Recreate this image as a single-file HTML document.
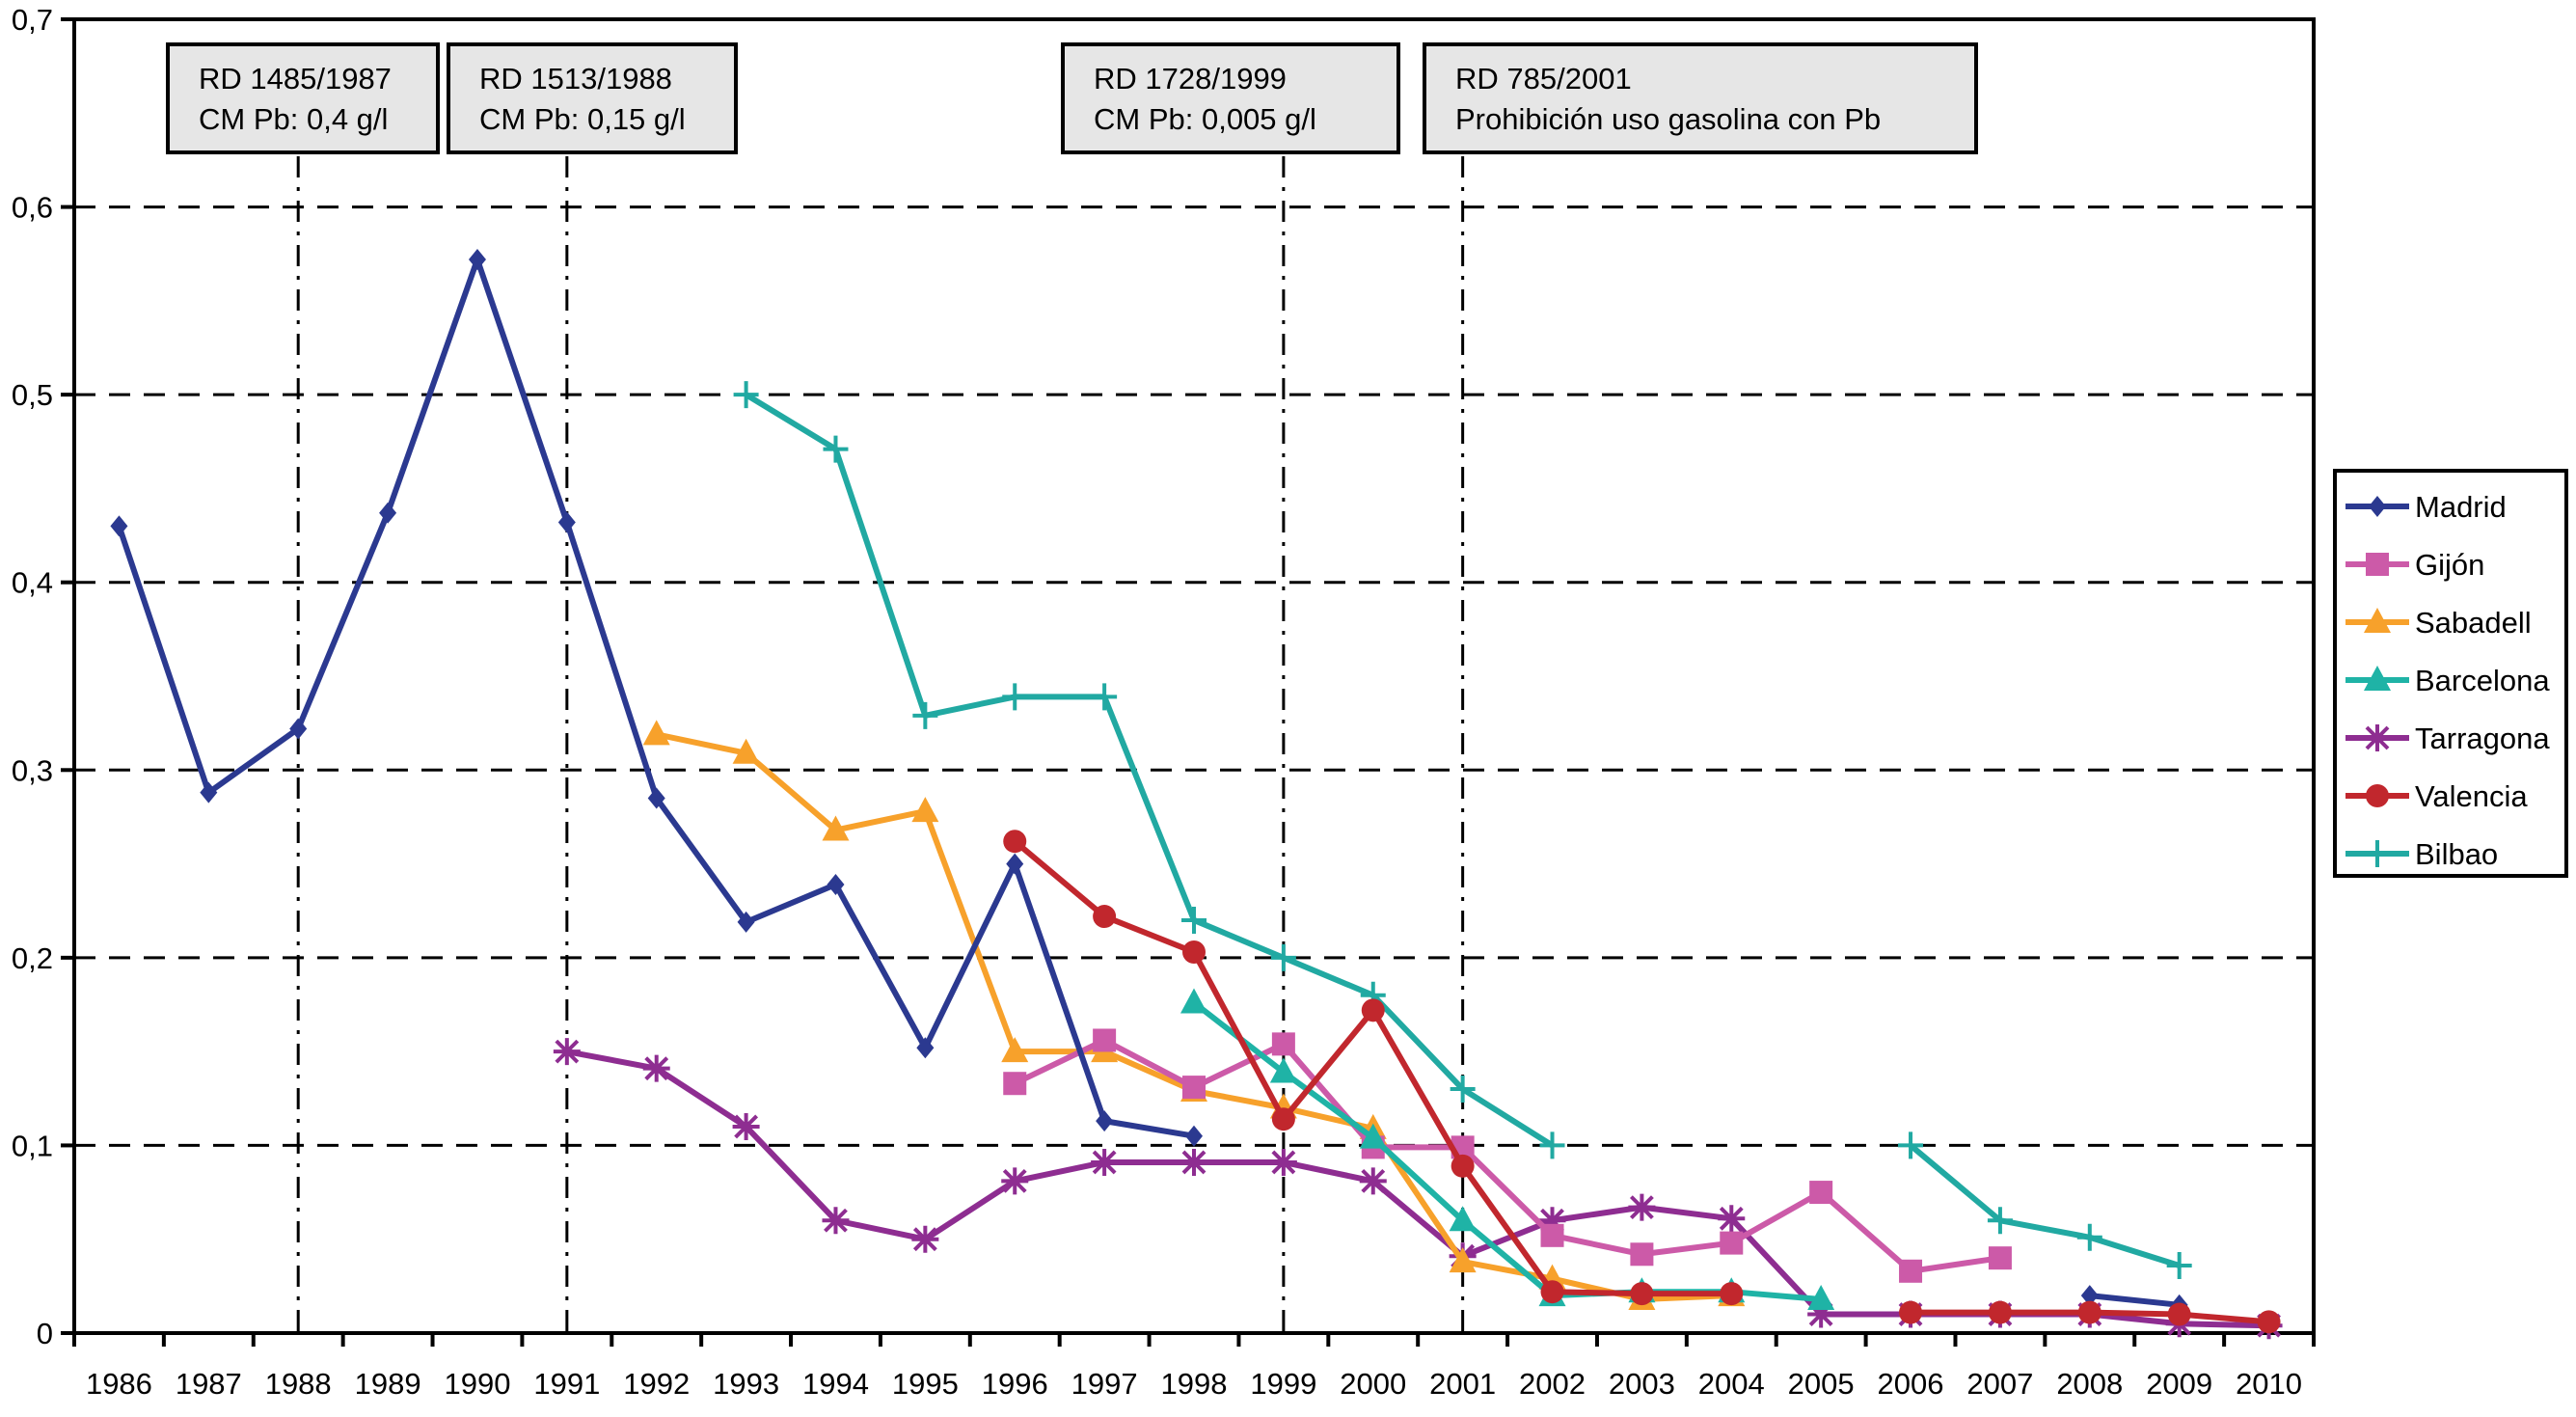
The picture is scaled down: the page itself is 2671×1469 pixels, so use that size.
<!DOCTYPE html>
<html><head><meta charset="utf-8">
<style>
html,body{margin:0;padding:0;background:#fff;}
svg{display:block;font-family:"Liberation Sans",Arial,sans-serif;}
</style></head>
<body>
<svg id="chart" width="2671" height="1469" viewBox="0 0 2671 1469" xmlns="http://www.w3.org/2000/svg"></svg>
<script>
const years = [1986,1987,1988,1989,1990,1991,1992,1993,1994,1995,1996,1997,1998,1999,2000,2001,2002,2003,2004,2005,2006,2007,2008,2009,2010];
const yTicks = [0,0.1,0.2,0.3,0.4,0.5,0.6,0.7];
const yTickLabels = ["0","0,1","0,2","0,3","0,4","0,5","0,6","0,7"];
const seriesNames = ["Madrid","Gijón","Sabadell","Barcelona","Tarragona","Valencia","Bilbao"];
const madrid    = [0.43,0.288,0.322,0.437,0.572,0.432,0.285,0.219,0.239,0.152,0.25,0.113,0.105,null,null,null,null,null,null,null,null,null,0.02,0.015,null];
const gijon     = [null,null,null,null,null,null,null,null,null,null,0.133,0.156,0.131,0.154,0.099,0.099,0.052,0.042,0.048,0.075,0.033,0.04,null,null,null];
const sabadell  = [null,null,null,null,null,null,0.319,0.309,0.268,0.278,0.15,0.15,0.129,0.12,0.109,0.038,0.029,0.018,0.02,null,null,null,null,null,null];
const barcelona = [null,null,null,null,null,null,null,null,null,null,null,null,0.176,0.139,0.104,0.06,0.02,0.022,0.022,0.018,null,null,null,null,null];
const tarragona = [null,null,null,null,null,0.15,0.141,0.11,0.06,0.05,0.081,0.091,0.091,0.091,0.081,0.041,0.06,0.067,0.061,0.01,0.01,0.01,0.01,0.005,0.004];
const valencia  = [null,null,null,null,null,null,null,null,null,null,0.262,0.222,0.203,0.114,0.172,0.089,0.022,0.021,0.021,null,0.011,0.011,0.011,0.01,0.006];
const bilbao    = [null,null,null,null,null,null,null,0.5,0.471,0.329,0.339,0.339,0.22,0.2,0.18,0.13,0.1,null,null,null,0.1,0.06,0.051,0.036,null];
const eventYears = [1988,1991,1999,2001];
const eventTitles = ["RD 1485/1987","RD 1513/1988","RD 1728/1999","RD 785/2001"];
const eventTexts = ["CM Pb: 0,4 g/l","CM Pb: 0,15 g/l","CM Pb: 0,005 g/l","Prohibición uso gasolina con Pb"];

const L=77, R=2399, T=20, B=1382, YMAX=0.7;
const bw=(R-L)/years.length;
const xs=i=>L+bw*(i+0.5);
const ys=v=>B-(v/YMAX)*(B-T);
const svg=document.getElementById('chart');
const NS="http://www.w3.org/2000/svg";
function mk(tag,attrs,parent){const e=document.createElementNS(NS,tag);for(const k in attrs)e.setAttribute(k,attrs[k]);(parent||svg).appendChild(e);return e;}

// gridlines
yTicks.forEach((v,i)=>{
  if(v>0&&v<YMAX){const g=mk('line',{x1:L,x2:R,y1:ys(v),y2:ys(v),stroke:'#000','stroke-width':3,'stroke-dasharray':'22,14'});
  
  }
  const tk=mk('line',{x1:L-14,x2:L,y1:ys(v),y2:ys(v),stroke:'#000','stroke-width':4});
  
  
  const t=mk('text',{x:L-22,y:ys(v)+11,'text-anchor':'end','font-size':31});
  t.textContent=yTickLabels[i];
  
  
});
// top line
const tl=mk('line',{x1:L-14,x2:R,y1:T,y2:T,stroke:'#000','stroke-width':4});


// event lines & boxes
const boxes=[[174,454],[465,763],[1102,1450],[1477,2049]];
eventYears.forEach((y,k)=>{
  const x=xs(years.indexOf(y));
  const ln=mk('line',{x1:x,x2:x,y1:162,y2:B,stroke:'#000','stroke-width':3,'stroke-dasharray':'22,10,4,10'});
  
  
  const b=boxes[k];
  const r=mk('rect',{x:b[0],y:46,width:b[1]-b[0],height:112,fill:'#e6e6e6',stroke:'#000','stroke-width':4});
  
  
  const t1=mk('text',{x:b[0]+32,y:92,'font-size':31});t1.textContent=eventTitles[k];
  
  
  const t2=mk('text',{x:b[0]+32,y:134,'font-size':31});t2.textContent=eventTexts[k];
  
  
});
// axes
const ax=mk('line',{x1:L,x2:L,y1:T-2,y2:B,stroke:'#000','stroke-width':4});


const ax2=mk('line',{x1:R,x2:R,y1:T-2,y2:B+14,stroke:'#000','stroke-width':4});


const xa=mk('line',{x1:L-14,x2:R,y1:B,y2:B,stroke:'#000','stroke-width':4});


years.forEach((y,i)=>{
  const tk=mk('line',{x1:L+bw*i,x2:L+bw*i,y1:B,y2:B+14,stroke:'#000','stroke-width':4});
  
  
  const t=mk('text',{x:xs(i),y:B+63,'text-anchor':'middle','font-size':31});
  t.textContent=y;
  
  
});

function marker(g,type,x,y,c){
  if(type==='diamond') mk('polygon',{points:`${x},${y-11} ${x+9},${y} ${x},${y+11} ${x-9},${y}`,fill:c},g);
  else if(type==='square') mk('rect',{x:x-12,y:y-12,width:24,height:24,fill:c},g);
  else if(type==='triangle') mk('polygon',{points:`${x},${y-15} ${x+14},${y+11} ${x-14},${y+11}`,fill:c},g);
  else if(type==='circle') mk('circle',{cx:x,cy:y,r:12,fill:c},g);
  else if(type==='star'){mk('path',{d:`M${x-11} ${y-11}L${x+11} ${y+11}M${x-11} ${y+11}L${x+11} ${y-11}M${x} ${y-14}L${x} ${y+14}M${x-14} ${y}L${x+14} ${y}`,stroke:c,'stroke-width':4},g);}
  else if(type==='plus'){mk('path',{d:`M${x} ${y-14}L${x} ${y+14}M${x-13} ${y}L${x+13} ${y}`,stroke:c,'stroke-width':4},g);}
}
const seriesData=[madrid,gijon,sabadell,barcelona,tarragona,valencia,bilbao];
const colors=['#2b3990','#cc5aa8','#f7a12b','#1fb3a6','#8e2d91','#c1272d','#21a9a2'];
const markers=['diamond','square','triangle','triangle','star','circle','plus'];
const order=[4,2,1,3,6,0,5];
order.forEach(s=>{
  const g=mk('g',{});
  
  
  const d=seriesData[s];let path='';let pen=false;
  d.forEach((v,i)=>{if(v==null){pen=false;return;}path+=(pen?'L':'M')+xs(i)+' '+ys(v);pen=true;});
  mk('path',{d:path,fill:'none',stroke:colors[s],'stroke-width':6,'stroke-linejoin':'round'},g);
  d.forEach((v,i)=>{if(v!=null)marker(g,markers[s],xs(i),ys(v),colors[s]);});
});
// legend
const lg=mk('g',{});


mk('rect',{x:2421,y:488,width:240,height:420,fill:'#fff',stroke:'#000','stroke-width':4},lg);
seriesNames.forEach((n,s)=>{
  const y=525+s*60;
  const e=mk('g',{},lg);
  
  
  mk('line',{x1:2432,x2:2498,y1:y,y2:y,stroke:colors[s],'stroke-width':6},e);
  marker(e,markers[s],2465,y,colors[s]);
  const t=mk('text',{x:2504,y:y+11,'font-size':31},e);t.textContent=n;
});
</script>
</body></html>
